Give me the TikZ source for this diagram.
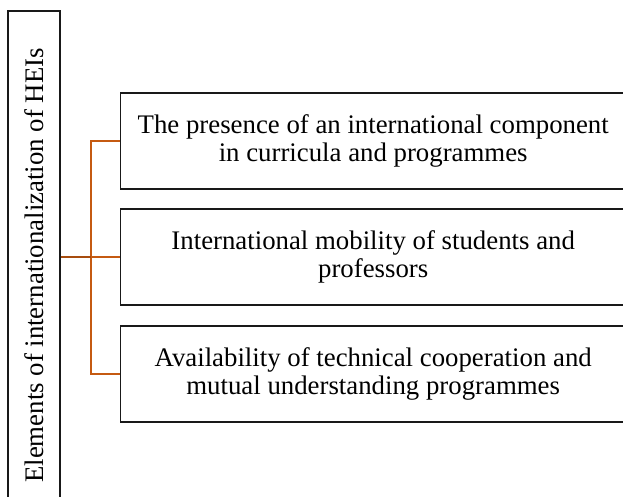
\documentclass[tikz,border=0pt]{standalone}
\usepackage{fontspec}
\setmainfont{Liberation Serif}
\definecolor{conn}{HTML}{C55A11}
\tikzset{
  x=1pt,y=1pt,
  box/.style={draw=black!90, line width=1.4pt, inner sep=0pt, align=center,
    font=\fontsize{26.8}{28}\selectfont},
  itembox/.style={box, minimum width=505pt, minimum height=96pt, anchor=west},
  connline/.style={draw=conn, line width=1.5pt},
  connthick/.style={draw=conn!85!black, line width=2.6pt}
}
\begin{document}
\begin{tikzpicture}
\useasboundingbox (0,0) rectangle (623,-497);
\clip (0,0) rectangle (623,-497);
\fill[white] (0,0) rectangle (623,-497);
\node[box, rotate=90, minimum width=509pt, minimum height=52pt] (L) at (34,-265.5)
  {Elements of internationalization of HEIs};
\node[itembox] (b1) at (120,-141) {The presence of an international component\\in curricula and programmes};
\node[itembox] (b2) at (120,-257) {International mobility of students and\\professors};
\node[itembox] (b3) at (120,-374) {Availability of technical cooperation and\\mutual understanding programmes};
\coordinate (j) at (91,-257);
\draw[connline] (b1.west) -| (j);
\draw[connline] (b3.west) -| (j);
\draw[connline] (j) -- (b2.west);
\draw[connthick] (L.south |- j) -- (j);
\end{tikzpicture}
\end{document}
